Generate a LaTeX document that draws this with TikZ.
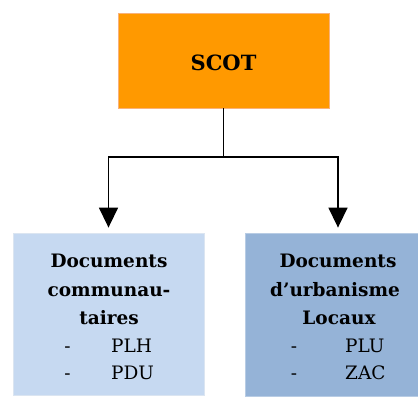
\documentclass[tikz,border=0pt]{standalone}
\usepackage{fontspec}
\setmainfont{DejaVu Serif}
\usetikzlibrary{arrows.meta}
\definecolor{scotfill}{HTML}{FF9900}
\definecolor{scotline}{HTML}{F9B27A}
\definecolor{comfill}{HTML}{C6D9F1}
\definecolor{comline}{HTML}{DBE5F1}
\definecolor{urbfill}{HTML}{95B3D7}
\definecolor{urbline}{HTML}{B8CCE4}
\tikzset{
  box/.style={rectangle, inner sep=0pt, line width=0.8pt},
  title/.style={anchor=base, inner sep=0pt, font=\fontsize{18.5}{22}\selectfont\bfseries},
  item/.style={anchor=base west, inner sep=0pt, font=\fontsize{18.5}{22}\selectfont},
  dashmark/.style={anchor=base, inner sep=0pt, font=\fontsize{18.5}{22}\selectfont},
  link/.style={line width=1.5pt, draw=black},
  arrow/.style={link, -{Triangle[width=19pt,length=20pt]}, shorten >=5pt},
}
\begin{document}
\begin{tikzpicture}[x=1pt,y=1pt]
\useasboundingbox (0,0) rectangle (418,398);
% top box
\node[box, fill=scotfill, draw=scotline, minimum width=211pt, minimum height=95pt] (scot) at (223.5,337.5) {};
\node[inner sep=0pt, font=\fontsize{21}{25}\selectfont\bfseries] (scottxt) at (223.5,335) {SCOT};
% lower boxes
\node[box, fill=comfill, draw=comline, minimum width=191pt, minimum height=162pt] (com) at (108.5,84) {};
\node[box, fill=urbfill, draw=urbline, minimum width=173pt, minimum height=163pt] (urb) at (331.5,83.5) {};
% connectors
\coordinate (split) at (223.5,241);
\draw[link] (scot.south) -- (split);
\draw[arrow] (split) -| (com.north);
\draw[arrow] (split) -| ([xshift=6.5pt]urb.north);
% left box text
\node[title] (c1) at (109,130) {Documents};
\node[title] (c2) at (109,101) {communau-};
\node[title] (c3) at (109,73) {taires};
\node[dashmark] (cd1) at (67.5,45) {-};
\node[item] (ci1) at (111,45) {PLH};
\node[dashmark] (cd2) at (67.5,18) {-};
\node[item] (ci2) at (111,18) {PDU};
% right box text
\node[title] (u1) at (338,130) {Documents};
\node[title] (u2) at (335,101) {d’urbanisme};
\node[title] (u3) at (339,73) {Locaux};
\node[dashmark] (ud1) at (294,45) {-};
\node[item] (ui1) at (345,45) {PLU};
\node[dashmark] (ud2) at (294,18) {-};
\node[item] (ui2) at (345,18) {ZAC};
\end{tikzpicture}
\end{document}
